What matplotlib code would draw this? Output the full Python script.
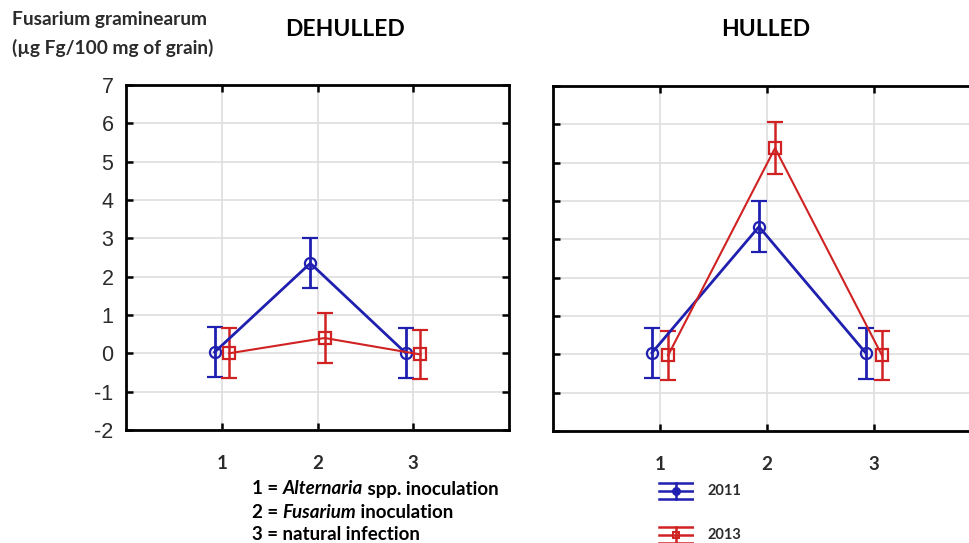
import matplotlib
matplotlib.use("Agg")
import matplotlib.pyplot as plt
import numpy as np

plt.rcParams["axes.unicode_minus"] = False

# treatment codes on the x axis
treatments = [1, 2, 3]
years = ["2011", "2013"]

# Fusarium graminearum DNA (ug Fg / 100 mg grain), means and half-widths of the bars
dehulled_2011 = [0.03, 2.35, 0.00]
dehulled_2011_err = [0.65, 0.65, 0.65]
dehulled_2013 = [0.00, 0.40, -0.03]
dehulled_2013_err = [0.65, 0.65, 0.65]

hulled_2011 = [0.04, 3.33, 0.03]
hulled_2011_err = [0.65, 0.67, 0.67]
hulled_2013 = [-0.03, 5.38, -0.03]
hulled_2013_err = [0.65, 0.67, 0.65]

yticks = [7, 6, 5, 4, 3, 2, 1, 0, -1, -2]

BLUE = "#1f1fb0"
RED = "#d02222"
TXT = "#2b2b2b"
LBL_FONT = ["Lato", "DejaVu Sans"]
NUM_FONT = ["Liberation Sans", "DejaVu Sans"]

fig = plt.figure(figsize=(9.70, 5.43), dpi=100)
ax1 = fig.add_axes([126 / 970, 1 - 430 / 543, 383 / 970, 345 / 543])
ax2 = fig.add_axes([553 / 970, 1 - 431 / 543, 428 / 970, 345 / 543])

x = np.array(treatments, dtype=float)
shift = 0.075


def panel(ax, y11, e11, y13, e13):
    ax.errorbar(x - shift, y11, yerr=e11, color=BLUE, lw=2.0, elinewidth=2.0,
                capsize=6, capthick=2.0, marker="o", ms=8, mfc="none", mew=1.6, zorder=3)
    ax.errorbar(x + shift, y13, yerr=e13, color=RED, lw=1.5, elinewidth=1.8,
                capsize=6, capthick=1.8, marker="s", ms=8, mfc="none", mew=1.6, zorder=3)
    ax.set_xlim(0, 4)
    ax.set_ylim(-2, 7)
    ax.set_xticks(treatments)
    ax.set_yticks(yticks)
    ax.grid(True, color="#e0e0e0", lw=1.3)
    ax.set_axisbelow(True)
    for s in ax.spines.values():
        s.set_linewidth(2.0)
        s.set_color("black")
    ax.tick_params(direction="in", length=5, width=1.8, top=True, right=True,
                   colors="black")
    ax.tick_params(axis="x", pad=18)
    for t in ax.get_xticklabels():
        t.set_fontfamily(LBL_FONT)
        t.set_fontweight("bold")
        t.set_fontsize(13.5)
        t.set_color(TXT)


panel(ax1, dehulled_2011, dehulled_2011_err, dehulled_2013, dehulled_2013_err)
panel(ax2, hulled_2011, hulled_2011_err, hulled_2013, hulled_2013_err)

ax1.tick_params(axis="y", pad=9, labelsize=15.5)
for t in ax1.get_yticklabels():
    t.set_fontfamily(NUM_FONT)
    t.set_color(TXT)
ax2.tick_params(axis="y", labelleft=False)

# headings
fig.text(12 / 970, 1 - 20 / 543, "Fusarium graminearum", family=LBL_FONT, weight="bold",
         fontsize=13.8, color=TXT, va="center", ha="left")
fig.text(12 / 970, 1 - 48 / 543, "(\u00b5g Fg/100 mg of grain)", family=LBL_FONT, weight="bold",
         fontsize=13.8, color=TXT, va="center", ha="left")
fig.text(345 / 970, 1 - 29 / 543, "DEHULLED", family=LBL_FONT, weight="bold",
         fontsize=16.5, color="black", va="center", ha="center")
fig.text(766 / 970, 1 - 29 / 543, "HULLED", family=LBL_FONT, weight="bold",
         fontsize=16.5, color="black", va="center", ha="center")

# treatment key, italic genus names
key = [
    [("1 = ", "normal"), ("Alternaria", "italic"), (" spp. inoculation", "normal")],
    [("2 = ", "normal"), ("Fusarium", "italic"), (" inoculation", "normal")],
    [("3 = natural infection", "normal")],
]
for i, parts in enumerate(key):
    yk = 1 - (489 + 23 * i) / 543
    prev = None
    for txt, style in parts:
        kw = dict(family=LBL_FONT, weight="bold", style=style, fontsize=13.5,
                  color="black", va="center", ha="left")
        if prev is None:
            prev = fig.text(252 / 970, yk, txt, **kw)
        else:
            prev = ax1.annotate(txt, xy=(1, 0.5), xycoords=prev, annotation_clip=False, **kw)

# year legend
for i, (yr, col, mk) in enumerate(zip(years, [BLUE, RED], ["o", "s"])):
    yc = 491 + 44 * i
    lax = fig.add_axes([658 / 970, 1 - (yc + 10) / 543, 36 / 970, 20 / 543])
    lax.axis("off")
    lax.set_xlim(-1, 1)
    lax.set_ylim(-1, 1)
    lax.plot([-0.95, 0.95], [0, 0], color=col, lw=1.8)
    lax.plot([-0.95, 0.95], [0.8, 0.8], color=col, lw=1.8)
    lax.plot([-0.95, 0.95], [-0.8, -0.8], color=col, lw=1.8)
    lax.plot([0, 0], [-0.8, 0.8], color=col, lw=1.8)
    lax.plot([0], [0], marker=mk, color=col, ms=5, mfc=col if mk == "o" else "none", mew=1.4)
    fig.text(708 / 970, 1 - yc / 543, yr, family=LBL_FONT, weight="bold", fontsize=10.5,
             color=TXT, va="center", ha="left")

fig.savefig("out.png", dpi=100, facecolor="white")
